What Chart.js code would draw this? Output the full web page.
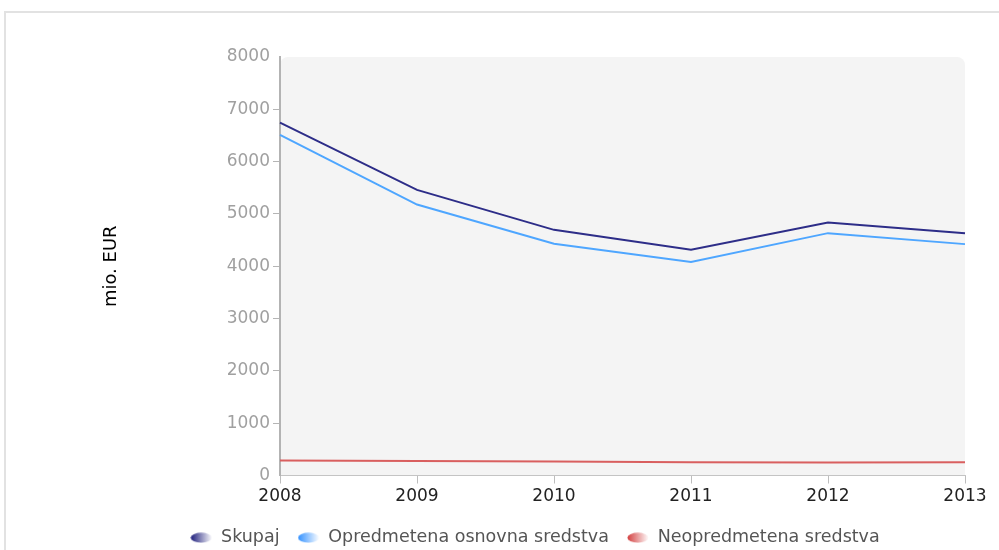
<!DOCTYPE html>
<html>
<head>
<meta charset="utf-8">
<script src="https://cdn.jsdelivr.net/npm/chart.js@4"></script>
<style>
  html, body { margin: 0; padding: 0; background: #fff; }
  #wrap { width: 999px; height: 550px; position: relative; }
</style>
</head>
<body>
<div id="wrap"><canvas id="c" width="999" height="550"></canvas></div>
<script>
const years = ['2008', '2009', '2010', '2011', '2012', '2013'];
const skupaj = [6745, 5460, 4696, 4315, 4836, 4633];
const opredmetena = [6510, 5180, 4429, 4080, 4633, 4423];
const neopredmetena = [285, 275, 268, 252, 250, 252];
const seriesNames = ['Skupaj', 'Opredmetena osnovna sredstva', 'Neopredmetena sredstva'];
const yTitle = 'mio. EUR';

const FONT = 'DejaVu Sans';

function marker(dark) {
  const c = document.createElement('canvas');
  c.width = 22; c.height = 11;
  const g = c.getContext('2d');
  const grad = g.createLinearGradient(0, 0, 22, 0);
  grad.addColorStop(0, dark);
  grad.addColorStop(1, '#ffffff');
  g.fillStyle = grad;
  g.beginPath();
  g.ellipse(11, 5.5, 10.5, 5, 0, 0, Math.PI * 2);
  g.fill();
  return c;
}

const bgPlugin = {
  id: 'bg',
  beforeDraw(chart) {
    const ctx = chart.ctx;
    const a = chart.chartArea;
    ctx.save();
    ctx.strokeStyle = '#e2e2e2';
    ctx.lineWidth = 2;
    ctx.strokeRect(5, 12, 1200, 800);
    ctx.fillStyle = '#f4f4f4';
    ctx.beginPath();
    ctx.roundRect(a.left, a.top, a.right - a.left, a.bottom - a.top, [8, 8, 0, 0]);
    ctx.fill();
    ctx.restore();
  }
};

new Chart(document.getElementById('c'), {
  type: 'line',
  data: {
    labels: years,
    datasets: [
      { label: seriesNames[0], data: skupaj, borderColor: '#2d2d88', borderWidth: 2, pointRadius: 0, pointStyle: marker('#1a1a7a'), tension: 0 },
      { label: seriesNames[1], data: opredmetena, borderColor: '#4ea6ff', borderWidth: 2, pointRadius: 0, pointStyle: marker('#2f8fff'), tension: 0 },
      { label: seriesNames[2], data: neopredmetena, borderColor: '#d95f5f', borderWidth: 2, pointRadius: 0, pointStyle: marker('#d23c3c'), tension: 0 }
    ]
  },
  options: {
    responsive: false,
    animation: false,
    layout: { padding: { left: 105, right: 34, top: 57, bottom: -6.5 } },
    plugins: {
      tooltip: { enabled: false },
      legend: {
        position: 'bottom',
        labels: {
          usePointStyle: true,
          pointStyleWidth: 22,
          boxHeight: 11,
          padding: 18,
          color: '#555',
          font: { family: FONT, size: 17.5 }
        }
      }
    },
    scales: {
      x: {
        type: 'category',
        offset: false,
        grid: { drawOnChartArea: false, tickLength: 8, color: '#bdbdbd', lineWidth: 1 },
        border: { color: '#c4c4c4', width: 1 },
        ticks: { color: '#222', font: { family: FONT, size: 17 }, padding: 3, maxRotation: 0, autoSkip: false },
        afterFit(s) { s.height = 35.5; }
      },
      y: {
        min: 0, max: 8000,
        grid: {
          drawOnChartArea: false, tickLength: 7, lineWidth: 1,
          color: (c) => (c.tick && (c.tick.value === 8000 || c.tick.value === 0)) ? 'rgba(0,0,0,0)' : '#b5b5b5'
        },
        border: { color: '#b3b3b3', width: 2 },
        ticks: { stepSize: 1000, color: '#a0a0a0', font: { family: FONT, size: 17 }, padding: 3, callback: (v) => String(v) },
        title: { display: true, text: yTitle, color: '#000', font: { family: FONT, size: 18 }, padding: { top: -4, bottom: 0 } },
        afterFit(s) { s.width = 175; }
      }
    }
  },
  plugins: [bgPlugin]
});
</script>
</body>
</html>
